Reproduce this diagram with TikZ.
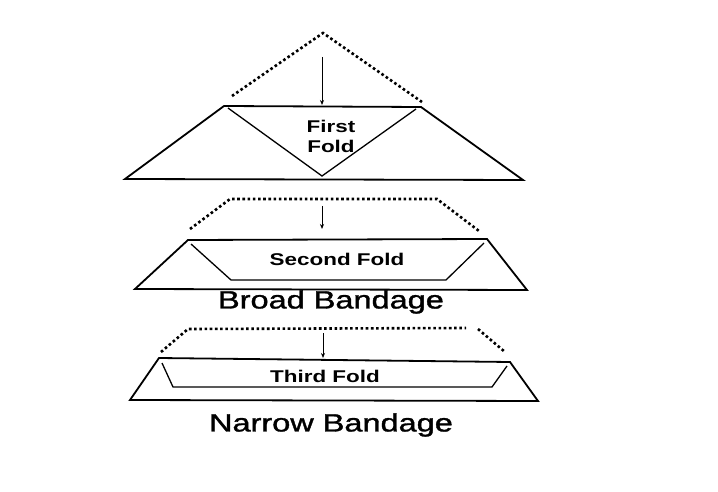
\documentclass[tikz,border=0pt]{standalone}
\usepackage{fontspec}
\setmainfont{Liberation Sans}
\newfontfamily\bandfont[FakeBold=1.2]{Liberation Sans}
\usetikzlibrary{arrows.meta}
\newcommand{\hstr}[1]{\scalebox{1.32}[1]{#1}}
\newcommand{\hstrb}[1]{\scalebox{1.3}[1]{#1}}
\tikzset{
  outline/.style={line width=1.8pt, line join=miter},
  inner/.style={line width=1.3pt},
  dots/.style={line width=2.6pt, dash pattern=on 2.6pt off 2.6pt},
  down/.style={line width=0.9pt, -{Stealth[length=5pt,width=4pt]}},
  foldlabel/.style={font=\fontsize{17}{19}\selectfont\bfseries, align=center, inner sep=0pt},
  bandlabel/.style={font=\bandfont\fontsize{25}{27}\selectfont, inner sep=0pt}
}
\begin{document}
\begin{tikzpicture}[x=1pt,y=-1pt]
\useasboundingbox[fill=white] (0,0) rectangle (718,492);
% ---------- First fold ----------
\coordinate (a1) at (232,96);
\coordinate (a2) at (323,33);
\coordinate (a3) at (422,102);
\draw[dots] (a1) -- (a2) -- (a3);
\coordinate (t1) at (224,106);
\coordinate (t2) at (421,107);
\coordinate (b1) at (125,179);
\coordinate (b2) at (523,180);
\draw[outline] (t1) -- (t2) -- (b2) -- (b1) -- cycle;
\draw[inner] (228,108) -- (322,176) -- (416,109);
\coordinate (s1) at (322,57);
\coordinate (e1) at (322,105);
\draw[down] (s1) -- (e1);
\node[foldlabel] (f1) at (331,136) {\hstr{First}\\[1pt]\hstr{Fold}};
% ---------- Second fold ----------
\draw[dots] (190,229) -- (230,199) -- (437,199) -- (479,231);
\draw[outline] (188,240) -- (487,239) -- (527,290) -- (135,289) -- cycle;
\draw[inner] (191,244) -- (231,280) -- (446,280) -- (484,243);
\coordinate (s2) at (322,206);
\coordinate (e2) at (322,229);
\draw[down] (s2) -- (e2);
\node[foldlabel] (f2) at (337,259) {\hstr{Second Fold}};
\node[bandlabel] (l2) at (331,302) {\hstrb{Broad Bandage}};
% ---------- Third fold ----------
\draw[dots] (161,352) -- (188,329) -- (466,328);
\draw[dots] (478,329) -- (505,352);
\draw[outline] (159,358) -- (510,362) -- (538,401) -- (130,400) -- cycle;
\draw[inner] (162,363) -- (173,387) -- (492,387) -- (507,366);
\coordinate (s3) at (323,333);
\coordinate (e3) at (323,358);
\draw[down] (s3) -- (e3);
\node[foldlabel] (f3) at (325,376) {\hstr{Third Fold}};
\node[bandlabel] (l3) at (331,425) {\hstrb{Narrow Bandage}};
\end{tikzpicture}
\end{document}
